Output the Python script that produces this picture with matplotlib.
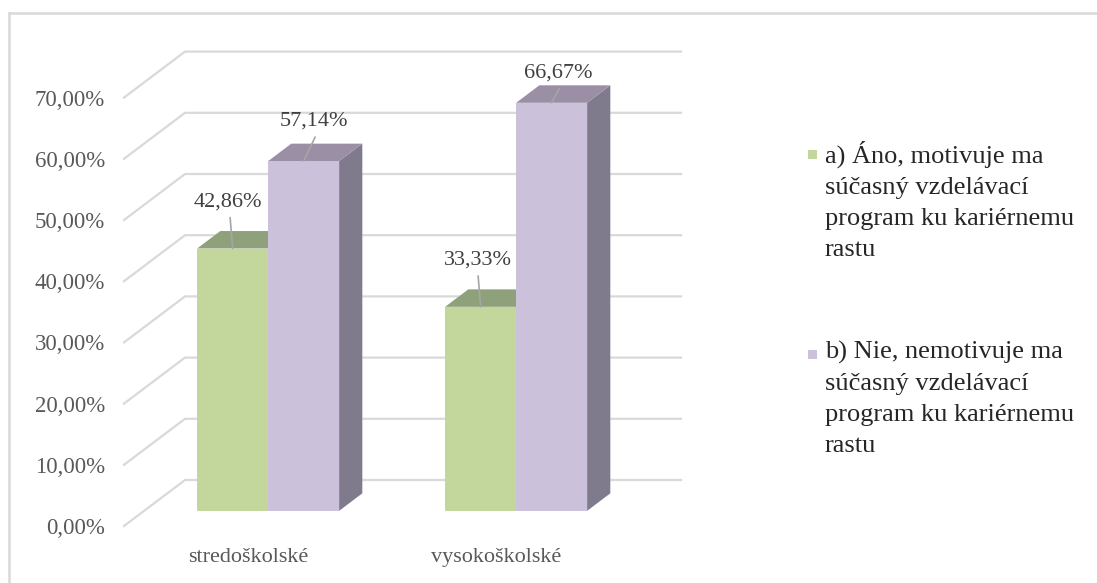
import matplotlib
matplotlib.use("Agg")
import matplotlib.pyplot as plt
from matplotlib.patches import Polygon, Rectangle
from matplotlib.lines import Line2D

# ---- data ----
categories = ["stredoškolské", "vysokoškolské"]
series_names = [
    "a) Áno, motivuje ma\nsúčasný vzdelávací\nprogram ku kariérnemu\nrastu",
    "b) Nie, nemotivuje ma\nsúčasný vzdelávací\nprogram ku kariérnemu\nrastu",
]
ano_values = [42.86, 33.33]
nie_values = [57.14, 66.67]
y_ticks = [0, 10, 20, 30, 40, 50, 60, 70]

# ---- style ----
FONT = "Liberation Serif"
GRID = "#D9D9D9"
AXIS_TXT = "#595959"
LABEL_TXT = "#404040"
front_colors = ["#C3D69B", "#CCC1DA"]
top_colors = ["#8FA17A", "#9B8FA6"]
side_colors = ["#7A8A62", "#7F7A8C"]

W, H = 1097, 583
fig = plt.figure(figsize=(W / 100, H / 100), dpi=100)
fig.patch.set_facecolor("white")

# front plane of the plot area
ax = fig.add_axes([124 / W, 57 / H, 496 / W, 428.4 / H])
ax.set_xlim(-0.5, 1.5)
ax.set_ylim(0, 70)
ax.set_facecolor("none")
for s in ax.spines.values():
    s.set_visible(False)

# oblique depth: one unit of depth shifts by KX category units and KY percent
KX = 61 / 248
KY = 46 / 6.12


def proj(x, v, d):
    return (x + d * KX, v + d * KY)


# side wall + back wall gridlines
for v in y_ticks:
    p0 = proj(-0.5, v, 0)
    p1 = proj(-0.5, v, 1)
    p2 = proj(1.5, v, 1)
    ax.add_line(Line2D([p0[0], p1[0], p2[0]], [p0[1], p1[1], p2[1]],
                       color=GRID, lw=1.6, clip_on=False, zorder=1))

# bars
bar_w = 71 / 248
d0, d1 = 0.33, 0.71
series = [ano_values, nie_values]
for ci in range(len(categories)):
    for si, vals in enumerate(series):
        v = vals[ci]
        xl = ci - bar_w + si * bar_w
        xr = xl + bar_w
        z = 3 + si
        front = [proj(xl, 0, d0), proj(xr, 0, d0), proj(xr, v, d0), proj(xl, v, d0)]
        top = [proj(xl, v, d0), proj(xr, v, d0), proj(xr, v, d1), proj(xl, v, d1)]
        side = [proj(xr, 0, d0), proj(xr, v, d0), proj(xr, v, d1), proj(xr, 0, d1)]
        ax.add_patch(Polygon(side, closed=True, fc=side_colors[si], ec="none",
                             clip_on=False, zorder=z))
        ax.add_patch(Polygon(top, closed=True, fc=top_colors[si], ec="none",
                             clip_on=False, zorder=z))
        ax.add_patch(Polygon(front, closed=True, fc=front_colors[si], ec="none",
                             clip_on=False, zorder=z))

# data labels with leader lines (offsets in pixels from bar top centre)
label_offsets = [[(-5, 46), (-3, 47)], [(10, 40), (7, 30)]]
leader_starts = [[(-2.5, 31), (-2.5, 31)], [(11.5, 24), (7.5, 14)]]
for si, vals in enumerate(series):
    for ci, v in enumerate(vals):
        xc = ci - bar_w / 2 + si * bar_w
        anchor = proj(xc, v, d0)
        ax.annotate("", xy=anchor, xytext=leader_starts[si][ci],
                    textcoords="offset pixels",
                    arrowprops=dict(arrowstyle="-", color="#A6A6A6", lw=1.2,
                                    shrinkA=0, shrinkB=0),
                    zorder=10, annotation_clip=False)
        ax.annotate(f"{v:.2f}%".replace(".", ","), xy=anchor,
                    xytext=label_offsets[si][ci], textcoords="offset pixels",
                    ha="center", va="center", fontsize=16, family=FONT,
                    color=LABEL_TXT, zorder=11, annotation_clip=False)

# axis labels
ax.set_yticks(y_ticks)
ax.set_yticklabels([f"{t:.2f}%".replace(".", ",") for t in y_ticks],
                   family=FONT, fontsize=16.5, color=AXIS_TXT)
ax.set_xticks(range(len(categories)))
ax.set_xticklabels(categories, family=FONT, fontsize=16, color=AXIS_TXT)
ax.tick_params(axis="y", length=0, pad=13.5)
ax.tick_params(axis="x", length=0, pad=15.5)

# legend
leg_x, leg_y = 825, [141, 341]
for si, name in enumerate(series_names):
    y_top = leg_y[si]
    fig.add_artist(Rectangle(((leg_x - 17) / W, 1 - (y_top + 18) / H), 9 / W, 9 / H,
                             transform=fig.transFigure, fc=front_colors[si], ec="none"))
    fig.text(leg_x / W, 1 - y_top / H, name, ha="left", va="top", family=FONT,
             fontsize=19, color="#262626", linespacing=1.53)

# chart border (top and left edges)
fig.add_artist(Line2D([9 / W, 1096 / W], [1 - 13 / H, 1 - 13 / H],
                      transform=fig.transFigure, color=GRID, lw=1.8))
fig.add_artist(Line2D([9 / W, 9 / W], [1 - 13 / H, 0],
                      transform=fig.transFigure, color=GRID, lw=1.8))

fig.savefig("out.png", dpi=100, facecolor="white")
